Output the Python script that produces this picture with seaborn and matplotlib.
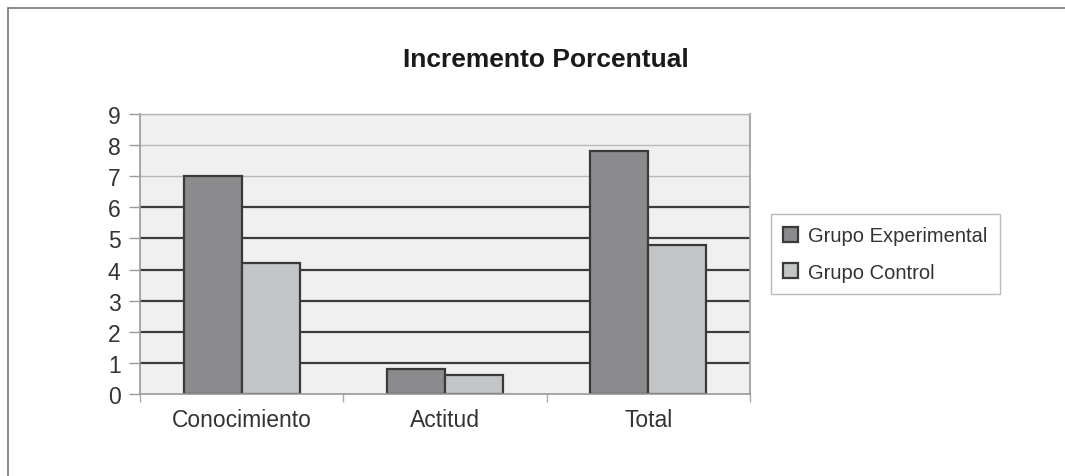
import matplotlib
matplotlib.use("Agg")
import matplotlib.pyplot as plt
from matplotlib.lines import Line2D
import pandas as pd
import seaborn as sns

categories = ["Conocimiento", "Actitud", "Total"]
grupo_experimental = [7.0, 0.8, 7.8]
grupo_control = [4.2, 0.6, 4.8]
series_names = ["Grupo Experimental", "Grupo Control"]
y_ticks = list(range(0, 10))

df = pd.DataFrame({
    "categoria": categories * 2,
    "valor": grupo_experimental + grupo_control,
    "grupo": [series_names[0]] * 3 + [series_names[1]] * 3,
})

sns.set_theme(style="white")
plt.rcParams["font.family"] = ["Liberation Sans", "DejaVu Sans"]

fig = plt.figure(figsize=(10.65, 4.77), dpi=100)
ax = fig.add_axes([0.1315, 0.172, 0.5728, 0.587])
ax.set_facecolor("#eff0ef")

# gridlines: the scan shows dark lines low down, faint ones above 6
for y in y_ticks[1:]:
    if y <= 6:
        ax.axhline(y, color="#3c3c3c", lw=1.6, zorder=0)
    else:
        ax.axhline(y, color="#b8b8b8", lw=1.0, zorder=0)

sns.barplot(
    data=df, x="categoria", y="valor", hue="grupo",
    palette={series_names[0]: "#8a8b8e", series_names[1]: "#c4c5c6"},
    width=0.57, gap=0, edgecolor="#3a3a3a", linewidth=1.6,
    ax=ax, zorder=2, legend=True,
)

ax.set_xlim(-0.5, 2.5)
ax.set_ylim(0, 9)
ax.set_yticks(y_ticks)
ax.set_xlabel("")
ax.set_ylabel("")
ax.tick_params(axis="y", length=8, width=1, color="#999999", labelsize=16.5,
               labelcolor="#333333", pad=6, left=True)
ax.tick_params(axis="x", which="major", length=0, labelsize=16.5,
               labelcolor="#333333", pad=10)
ax.set_xticks([-0.5, 0.5, 1.5, 2.5], minor=True)
ax.tick_params(axis="x", which="minor", length=6, width=1, color="#aaaaaa",
               bottom=True)

for side in ["left", "bottom", "right"]:
    ax.spines[side].set_color("#999999")
    ax.spines[side].set_linewidth(1.2)
ax.spines["top"].set_color("#b8b8b8")
ax.spines["top"].set_linewidth(1.0)

handles, labels = ax.get_legend_handles_labels()
ax.legend(handles, labels, loc="center left", bbox_to_anchor=(1.018, 0.5),
          frameon=True, fancybox=False, edgecolor="#aaaaaa",
          fontsize=14.5, handlelength=0.75, handleheight=0.75,
          handletextpad=0.5, labelspacing=0.85, borderpad=0.6,
          labelcolor="#333333")

fig.text(0.513, 0.874, "Incremento Porcentual", ha="center", va="center",
         fontsize=19, fontweight="bold", color="#1a1a1a")

# outer frame lines of the original chart area
fig.add_artist(Line2D([0.0075, 0.0075], [0.0, 0.981], color="#777777", lw=1.2))
fig.add_artist(Line2D([0.0075, 1.0], [0.981, 0.981], color="#777777", lw=1.2))

fig.savefig("out.png", dpi=100)
